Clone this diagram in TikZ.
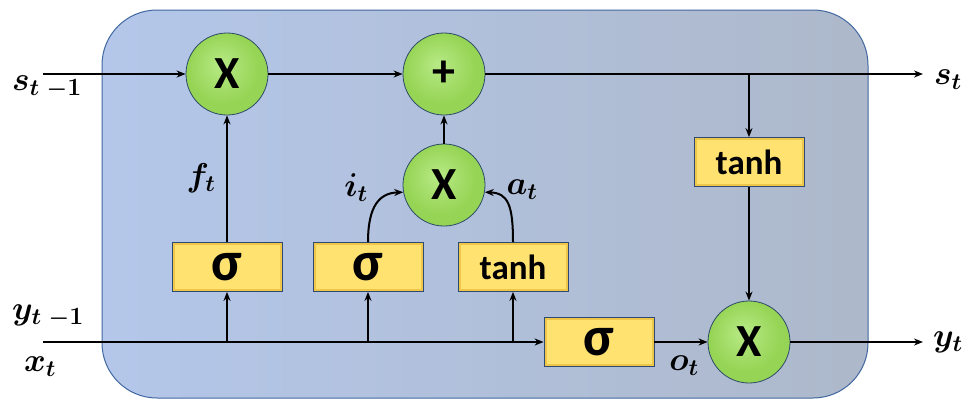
\documentclass[tikz,border=0pt]{standalone}
\usepackage{amsmath}
\usepackage{fontspec}
\DeclareFontShape{OML}{cmm}{m}{it}{<->cmmi10}{}
\DeclareFontShape{OML}{cmm}{b}{it}{<->cmmib10}{}
\DeclareFontShape{OMS}{cmsy}{m}{n}{<->cmsy10}{}
\DeclareFontShape{OMS}{cmsy}{b}{n}{<->cmbsy10}{}
\newfontfamily\boxfont{Carlito}
\usetikzlibrary{arrows.meta}
\definecolor{bgA}{HTML}{B4C7EA}
\definecolor{bgB}{HTML}{ADB8CA}
\definecolor{bgLine}{HTML}{4167A0}
\definecolor{gLight}{HTML}{B8EA86}
\definecolor{gMid}{HTML}{95D454}
\definecolor{gDark}{HTML}{6FAE33}
\definecolor{gateLine}{HTML}{2D4A6B}
\definecolor{boxFill}{HTML}{FFE270}
\definecolor{boxEdge}{HTML}{EDC64A}
\definecolor{boxLine}{HTML}{2E4A73}
\pgfdeclareradialshading{gateshade}{\pgfpoint{-4bp}{6bp}}{color(0bp)=(gLight); color(22bp)=(gMid); color(42bp)=(gMid); color(52bp)=(gDark)}
\tikzset{
  gate/.style={circle, minimum size=82pt, inner sep=0pt, draw=gateLine, line width=0.8pt,
    shading=gateshade, font=\boxfont\bfseries\fontsize{46}{46}\selectfont},
  gatebox/.style={rectangle, minimum width=110pt, minimum height=49pt, inner sep=0pt,
    draw=boxLine, line width=0.8pt, fill=boxEdge,
    path picture={\fill[boxFill] ([shift={(2.5pt,-2.5pt)}]path picture bounding box.north west)
      rectangle ([shift={(-2.5pt,2.5pt)}]path picture bounding box.south east);}},
  sigfont/.style={font=\boxfont\bfseries\fontsize{56}{56}\selectfont},
  tanhfont/.style={font=\boxfont\bfseries\fontsize{35}{35}\selectfont},
  lab/.style={font=\fontsize{33}{36}\selectfont\boldmath, inner sep=0pt},
  arr/.style={-{Stealth[length=9pt,width=7pt]}, line width=2pt},
  ln/.style={line width=2pt}
}
\begin{document}
\begin{tikzpicture}[x=1pt,y=-1pt]
\useasboundingbox (0,0) rectangle (978,400);
% background
\shade[rounded corners=55pt, left color=bgA, right color=bgB] (102,10) rectangle (868,398);
\draw[draw=bgLine, line width=1pt, rounded corners=55pt] (102,10) rectangle (868,398);

% gates
\node[gate] (x1) at (227,74) {X};
\node[gate] (p) at (444,74) {+};
\node[gate] (x2) at (444,185) {X};
\node[gate] (x3) at (749,342) {X};

% boxes
\node[gatebox, tanhfont] (t1) at (749,162) {tanh};
\node[gatebox, sigfont] (s1) at (227,267) {σ};
\node[gatebox, sigfont] (s2) at (368,267) {σ};
\node[gatebox, tanhfont] (t2) at (513,267) {tanh};
\node[gatebox, sigfont] (s3) at (599,342) {σ};

% free ends
\coordinate (sin) at (43,74);
\coordinate (sout) at (923,74);
\coordinate (xin) at (43,342);
\coordinate (yout) at (923,342);
\coordinate (br) at (749,74);
\coordinate (b1) at (227,342);
\coordinate (b2) at (368,342);
\coordinate (b3) at (513,342);

% top line
\draw[arr] (sin) -- (x1.west);
\draw[arr] (x1.east) -- (p.west);
\draw[arr] (p.east) -- (sout);
\draw[arr] (br) -- (t1.north);
\draw[arr] (t1.south) -- (x3.north);
\draw[arr] (x2.north) -- (p.south);
\draw[arr] (s1.north) -- (x1.south);

% bottom line
\draw[arr] (xin) -- (s3.west);
\draw[arr] (b1) -- (s1.south);
\draw[arr] (b2) -- (s2.south);
\draw[arr] (b3) -- (t2.south);
\draw[arr] (s3.east) -- (x3.west);
\draw[arr] (x3.east) -- (yout);

% curved
\draw[arr] (s2.north) .. controls (368,205) and (380,193) .. (x2.190);
\draw[arr] (t2.north) .. controls (513,205) and (508,193) .. (x2.350);

% labels
\node[lab, anchor=north] (ls1) at (47,76) {$s_{t\;-1}$};
\node[lab] (ls) at (948,80) {$s_{t}$};
\node[lab] (lf) at (201,178) {$f_{t}$};
\node[lab] (li) at (356,188) {$i_{t}$};
\node[lab] (la) at (522,190) {$a_{t}$};
\node[lab] (ly1) at (48,316) {$y_{t\;-1}$};
\node[lab] (lx) at (40,367) {$x_{t}$};
\node[lab] (lo) at (684,366) {$o_{t}$};
\node[lab] (ly) at (948,342) {$y_{t}$};
\end{tikzpicture}
\end{document}
